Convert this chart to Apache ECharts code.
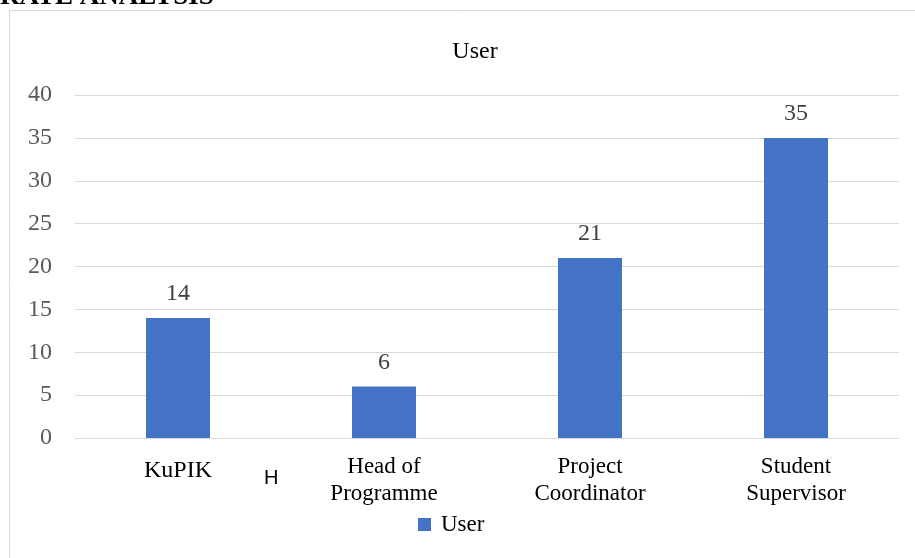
<!DOCTYPE html>
<html>
<head>
<meta charset="utf-8">
<script src="https://cdn.jsdelivr.net/npm/echarts@6/dist/echarts.min.js"></script>
<style>
  html, body { margin: 0; padding: 0; background: #fff; }
  #chart { width: 915px; height: 558px; }
</style>
</head>
<body>
<div id="chart"></div>
<script>
  // data
  const categories = ["KuPIK", "Head of\nProgramme", "Project\nCoordinator", "Student\nSupervisor"];
  const userValues = [14, 6, 21, 35];
  const yTicks = [0, 5, 10, 15, 20, 25, 30, 35, 40];

  const SERIF = '"Liberation Serif", "Times New Roman", serif';

  const chart = echarts.init(document.getElementById("chart"), null, { renderer: "canvas" });
  chart.setOption({
    animation: false,
    textStyle: { fontFamily: SERIF },
    title: {
      text: "User",
      left: 470, top: 35,
      textAlign: "center",
      textStyle: { fontFamily: SERIF, fontSize: 24, fontWeight: "normal", color: "#000" },
    },
    legend: {
      data: ["User"],
      left: 413, top: 508,
      itemWidth: 13, itemHeight: 13, itemGap: 10,
      icon: "rect",
      textStyle: { fontFamily: SERIF, fontSize: 23, color: "#000", padding: [0, 0, 0, 5] },
    },
    grid: { left: 75, right: 16, top: 95, bottom: 120 },
    xAxis: {
      type: "category",
      data: categories,
      axisLine: { lineStyle: { color: "#d9d9d9" } },
      axisTick: { show: false },
      axisLabel: {
        interval: 0,
        margin: 15,
        fontFamily: SERIF, fontSize: 23, color: "#000", lineHeight: 27,
        formatter: (v) => (v.indexOf("\n") < 0 ? "{one|" + v + "}" : v),
        rich: { one: { fontFamily: SERIF, fontSize: 24, color: "#000", padding: [8, 0, 0, 0] } },
      },
    },
    yAxis: {
      type: "value",
      min: yTicks[0], max: yTicks[yTicks.length - 1], interval: 5,
      axisLine: { show: false },
      axisTick: { show: false },
      axisLabel: { fontFamily: SERIF, fontSize: 24, color: "#595959", margin: 23 },
      splitLine: { lineStyle: { color: "#d9d9d9", width: 1 } },
    },
    series: [
      {
        name: "User",
        type: "bar",
        data: userValues,
        barWidth: 64,
        itemStyle: { color: "#4472C4" },
        label: {
          show: true, position: "top", distance: 12,
          fontFamily: SERIF, fontSize: 24, color: "#404040",
        },
      },
    ],
    graphic: [
      // chart frame, right/bottom edges run off the page
      {
        type: "rect", silent: true,
        shape: { x: 9.5, y: 10.5, width: 930, height: 570 },
        style: { fill: "none", stroke: "#d9d9d9", lineWidth: 1 },
      },
      // clipped heading above the chart (only its lower edge shows)
      {
        type: "text", x: 0, y: 11,
        style: {
          text: "RATE ANALYSIS", font: 'bold 27px "Liberation Serif", serif', fill: "#000",
          textVerticalAlign: "bottom",
        },
      },
      // stray glyph next to the first category
      {
        type: "text", x: 264, y: 478,
        style: {
          text: "H", font: '20px "Liberation Sans", Arial, sans-serif', fill: "#000",
          textVerticalAlign: "middle",
        },
      },
    ],
  });
</script>
</body>
</html>
